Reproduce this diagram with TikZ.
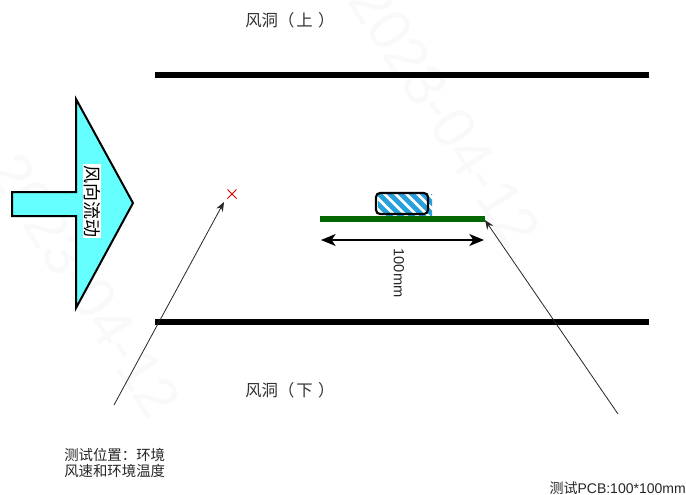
\documentclass[tikz,border=0pt]{standalone}
\usepackage{fontspec}
\setmainfont{Liberation Sans}
\newfontfamily\cjk{Noto Sans CJK SC}[Scale=1]
\usetikzlibrary{arrows.meta}
\definecolor{flow}{RGB}{102,255,255}
\definecolor{pcb}{RGB}{0,102,0}
\definecolor{hatch}{RGB}{40,160,220}
\tikzset{
  wall/.style={line width=4.5pt,draw=black},
  leader/.style={line width=0.6pt,draw=black!85,-{Stealth[length=7pt,width=5.5pt]}},
  lbl/.style={inner sep=0pt,anchor=west,font=\fontsize{12.3}{14}\selectfont\cjk,text=black!80},
  note/.style={inner sep=0pt,font=\fontsize{10.5}{12}\selectfont,text=black!85},
  wm/.style={inner sep=0pt,font=\fontsize{44}{46}\selectfont,text=black!2.5},
}
\begin{document}
\begin{tikzpicture}[x=0.75pt,y=-0.75pt]
\useasboundingbox (0,0) rectangle (686,494);
\fill[white] (0,0) rectangle (686,494);
% watermark
\node[wm,rotate=-57] (wma) at (445,115) {2023-04-12};
\node[wm,rotate=-57] (wmb) at (85,285) {2023-04-12};
% walls
\coordinate (wta) at (155,75); \coordinate (wtb) at (649,75);
\coordinate (wba) at (155,322); \coordinate (wbb) at (649,322);
\draw[wall] (wta) -- (wtb);
\draw[wall] (wba) -- (wbb);
% wind arrow
\draw[fill=flow,draw=black,line width=1.5pt,line join=miter]
  (76,99) -- (133,203) -- (76,308) -- (76,216) -- (12,216) -- (12,192) -- (76,192) -- cycle;
\node[fill=white,inner xsep=1pt,inner ysep=0.5pt,rotate=-90,font=\fontsize{13.5}{15}\selectfont\cjk] (wind) at (92,201) {风向流动};
% red cross
\node[inner sep=0pt,minimum size=8pt] (pt) at (232,194) {};
\draw[red!85!black,line width=0.7pt] (227.5,189.5) -- (236.5,198.5) (236.5,189.5) -- (227.5,198.5);
% component hatching
\begin{scope}
  \clip (378,194) rectangle (432,215);
  \fill[white] (376,193) rectangle (432,215);
  \foreach \i in {0,...,7}
    \draw[hatch,line width=3.6pt] ({364+\i*11},190) -- ({392+\i*11},218);
\end{scope}
% pcb
\coordinate (pcba) at (320,219); \coordinate (pcbb) at (485,219);
\draw[pcb,line width=4.6pt] (pcba) -- (pcbb);
\draw[black,line width=1.6pt,rounded corners=3pt] (376,193) rectangle (428,214);
% dimension
\coordinate (dima) at (321,240); \coordinate (dimb) at (484,240);
\draw[line width=1pt,{Stealth[length=11pt,width=9pt,inset=3pt]}-{Stealth[length=11pt,width=9pt,inset=3pt]}] (dima) -- (dimb);
\node[note,rotate=-90,font=\fontsize{11}{12}\selectfont] (dimlabel) at (399,273) {100mm};
% labels
\node[lbl] (top) at (245,20) {风洞（\kern1.5pt 上\kern4pt ）};
\node[lbl] (bot) at (245,390) {风洞（\kern1.5pt 下\kern4pt ）};
\node[note,align=left,anchor=north west,font=\fontsize{10.8}{12}\selectfont\cjk] (nl) at (64,448) {测试位置：环境\\风速和环境温度};
\node[note,anchor=east] (nr) at (686,488) {{\cjk 测试}PCB:100*100mm};
% leaders
\coordinate (la) at (114,405); \coordinate (lae) at (224,202);
\coordinate (lb) at (618,414); \coordinate (lbe) at (485,220);
\draw[leader] (la) -- (lae);
\draw[leader] (lb) -- (lbe);
\end{tikzpicture}
\end{document}
